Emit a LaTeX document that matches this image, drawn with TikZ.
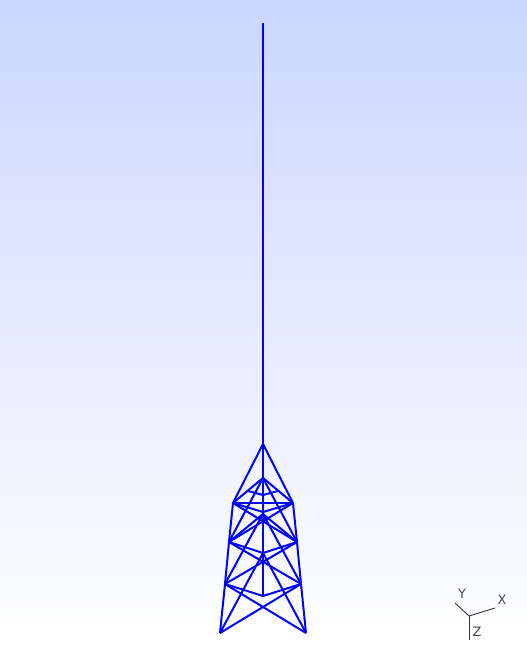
\documentclass[tikz,border=0pt]{standalone}
\usepackage{fontspec}
\setsansfont{DejaVu Sans}
\definecolor{skytop}{RGB}{203,214,255}
\definecolor{skybot}{RGB}{255,255,255}
\definecolor{towerblue}{RGB}{4,4,245}
\tikzset{
    member/.style = {draw = towerblue, line width = 2pt},
    axisline/.style = {draw = black!80, line width = 0.9pt},
    axislabel/.style = {font = \sffamily\fontsize{13}{13}\selectfont, text = black!70, inner sep = 0pt}
}
\begin{document}
\begin{tikzpicture}[x = 1pt, y = -1pt]
        \useasboundingbox (0,0) rectangle (527,645);
        \shade [top color = skytop, bottom color = skybot] (0,0) rectangle (527,645);

        % mast and centre line
        \draw [member] (263,23) -- (263,596);

        % outer legs
        \draw [member] (263,444) -- (233,503) -- (229,542) -- (225,584) -- (220,633);
        \draw [member] (263,444) -- (293,503) -- (297,542) -- (301,584) -- (306,633);

        % top section
        \draw [member] (233,503) -- (293,503);
        \draw [member] (233,503) -- (263,478) -- (293,503);
        \draw [member] (233,503) -- (263,512) -- (293,503);
        \draw [member] (248,491) -- (263,495) -- (278,491);
        \draw [member] (263,478) -- (229,542);
        \draw [member] (263,478) -- (297,542);

        % second section
        \draw [member] (233,503) -- (297,542);
        \draw [member] (293,503) -- (229,542);
        \draw [member] (229,542) -- (263,514) -- (297,542);
        \draw [member] (229,542) -- (263,553) -- (297,542);

        % third section
        \draw [member] (229,542) -- (301,584);
        \draw [member] (297,542) -- (225,584);
        \draw [member] (225,584) -- (263,514) -- (301,584);
        \draw [member] (225,584) -- (263,596) -- (301,584);

        % bottom section
        \draw [member] (225,584) -- (306,633);
        \draw [member] (301,584) -- (220,633);
        \draw [member] (220,633) -- (263,553) -- (306,633);

        % axes triad
        \coordinate (axisO) at (469,616);
        \coordinate (axisX) at (495,608);
        \coordinate (axisY) at (455,603);
        \coordinate (axisZ) at (469,640);
        \draw [axisline] (axisO) -- (axisX);
        \draw [axisline] (axisO) -- (axisY);
        \draw [axisline] (axisO) -- (axisZ);
        \node [axislabel] (labelX) at (502,600) {X};
        \node [axislabel] (labelY) at (462,594) {Y};
        \node [axislabel] (labelZ) at (477,632) {Z};
    \end{tikzpicture}
\end{document}
